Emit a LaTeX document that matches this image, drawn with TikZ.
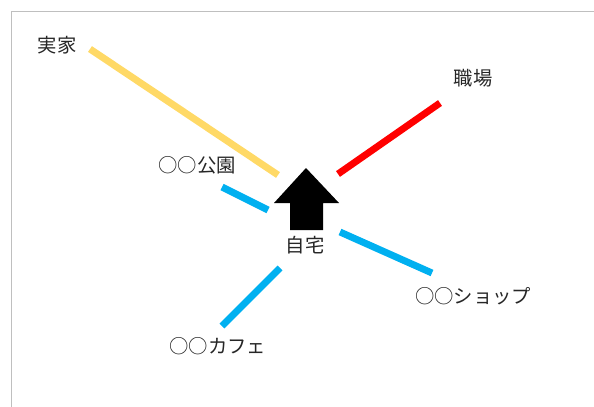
\documentclass[tikz,border=0pt]{standalone}
\usepackage{fontspec}
\setmainfont{Noto Sans CJK JP}
\definecolor{linegold}{HTML}{FFD966}
\definecolor{linered}{HTML}{FF0000}
\definecolor{lineblue}{HTML}{00B0F0}
\begin{document}
\begin{tikzpicture}[x=0.75pt, y=-0.75pt, font=\fontsize{14.5}{17}\selectfont,
    route/.style={line width=5.2pt},
    place/.style={inner sep=0pt, text=black!85}]
    \useasboundingbox (0,0) rectangle (594,407);
    % --- ramka ---
    \draw[gray!50, line width=1.1pt] (11.5,407) -- (11.5,11.5) -- (594,11.5);
    % --- dom: strzałka ---
    \fill[black] (306,168) -- (339,203) -- (323,203) -- (323,230)
      -- (290,230) -- (290,203) -- (274,203) -- cycle;
    \node[place] (home) at (305,245) {自宅};
    % --- miejsca ---
    \node[place] (parents) at (57,45)  {実家};
    \node[place] (work)    at (473,78) {職場};
    \node[place] (park)    at (197,165) {○○公園};
    \node[place] (shop)    at (473,296) {○○ショップ};
    \node[place] (cafe)    at (218,346) {○○カフェ};
    % --- końce linii ---
    \coordinate (parentsA) at (90,49);   \coordinate (parentsB) at (278,175);
    \coordinate (workA)    at (338,174); \coordinate (workB)    at (440,103);
    \coordinate (parkA)    at (222,187); \coordinate (parkB)    at (268,210);
    \coordinate (shopA)    at (340,232); \coordinate (shopB)    at (432,273);
    \coordinate (cafeA)    at (280,268); \coordinate (cafeB)    at (222,326);
    % --- linie ---
    \draw[route, linegold] (parentsA) -- (parentsB);
    \draw[route, linered]  (workA) -- (workB);
    \draw[route, lineblue] (parkA) -- (parkB);
    \draw[route, lineblue] (shopA) -- (shopB);
    \draw[route, lineblue] (cafeA) -- (cafeB);
  \end{tikzpicture}
\end{document}
